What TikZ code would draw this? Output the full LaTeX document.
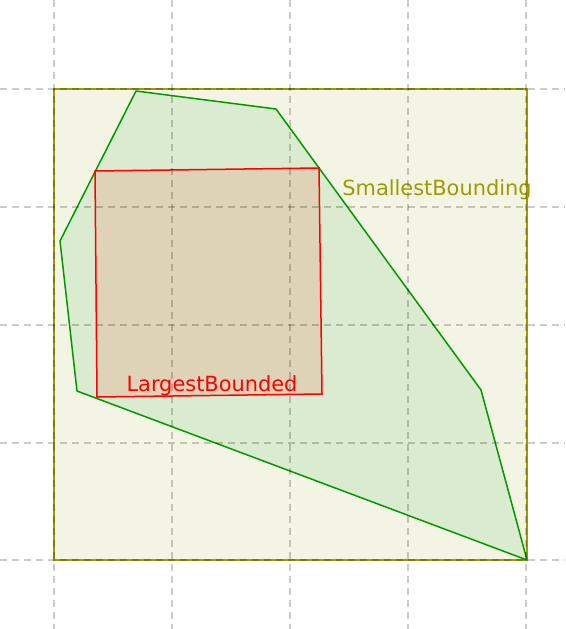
\documentclass[tikz,border=0pt]{standalone}
\usepackage{fontspec}
\setmainfont{DejaVu Sans}
\usepackage{xcolor}
\usepackage{tikz}
\definecolor{oliva}{HTML}{9C9C00}
\definecolor{sfondo}{HTML}{F4F4E5}
\definecolor{verde}{HTML}{009A00}
\definecolor{verdechiaro}{HTML}{DAEBCF}
\definecolor{rosso}{HTML}{FF0000}
\definecolor{marrone}{HTML}{DED2B7}

\begin{document}
\begin{tikzpicture}[x=1pt, y=-1pt,
            every node/.style={font=\fontsize{20.9}{24}\selectfont}]
        \useasboundingbox (0,0) rectangle (565,629);

        % Rettangolo minimo che contiene il poligono
        \coordinate (P) at (54,89);
        \coordinate (Q) at (527,560);
        \fill[sfondo] (P) rectangle (Q);
        \draw[oliva, line width=1.8pt] (P) rectangle (Q);

        % Poligono
        \coordinate (A) at (136,91);
        \coordinate (B) at (276,109);
        \coordinate (C) at (481,390);
        \coordinate (D) at (527,560);
        \coordinate (E) at (77,391);
        \coordinate (F) at (60,241);
        \draw[verde, fill=verdechiaro, line width=1.5pt, line join=round]
            (A) -- (B) -- (C) -- (D) -- (E) -- (F) -- cycle;

        % Quadrilatero massimo contenuto
        \coordinate (R1) at (95,171);
        \coordinate (R2) at (319,168);
        \coordinate (R3) at (322,394);
        \coordinate (R4) at (97,397);
        \draw[rosso, fill=marrone, line width=1.5pt]
            (R1) -- (R2) -- (R3) -- (R4) -- cycle;

        % Etichette
        \node[oliva, anchor=base] (smallest) at (437,195) {SmallestBounding};
        \node[rosso, anchor=base] (largest) at (212,391) {LargestBounded};

        % Griglia (tratteggiata, sopra a tutto)
        \foreach \x in {54,172,290,408,526}
            \draw[black, opacity=0.2, line width=1.5pt, dash pattern=on 7pt off 5pt]
                (\x,0) -- (\x,629);
        \foreach \y in {89,207,325,443,560}
            \draw[black, opacity=0.2, line width=1.5pt, dash pattern=on 7pt off 5pt]
                (0,\y) -- (565,\y);
    \end{tikzpicture}
\end{document}
